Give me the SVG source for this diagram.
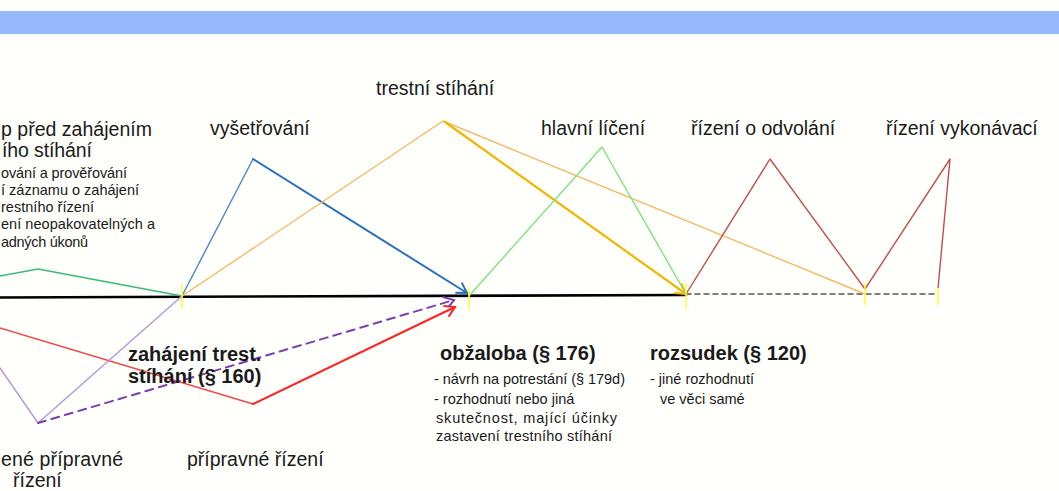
<svg xmlns="http://www.w3.org/2000/svg" width="1059" height="491" viewBox="0 0 1059 491">
<style>
text{font-family:"Liberation Sans",Arial,sans-serif;fill:#1a1a1a}
.h{font-size:19.5px}
.b{font-size:20px;font-weight:bold}
.s{font-size:14.5px}
.c{fill:none;stroke-linejoin:round;stroke-linecap:round}
.tick{stroke:#ffff33;stroke-width:1.5}
</style>
<defs>
<marker id="aBlue" markerWidth="14" markerHeight="14" refX="12" refY="7" orient="auto" markerUnits="userSpaceOnUse"><path d="M2,1 L12,7 L2,13" fill="none" stroke="#2a6fbd" stroke-width="2"/></marker>
<marker id="aGold" markerWidth="14" markerHeight="14" refX="12" refY="7" orient="auto" markerUnits="userSpaceOnUse"><path d="M2,1 L12,7 L2,13" fill="none" stroke="#f4b400" stroke-width="2"/></marker>
<marker id="aRed" markerWidth="14" markerHeight="14" refX="12" refY="7" orient="auto" markerUnits="userSpaceOnUse"><path d="M2,1 L12,7 L2,13" fill="none" stroke="#ff2222" stroke-width="2"/></marker>
<marker id="aPur" markerWidth="14" markerHeight="14" refX="12" refY="7" orient="auto" markerUnits="userSpaceOnUse"><path d="M2,1 L12,7 L5,12" fill="none" stroke="#7a3fb0" stroke-width="2"/></marker>
</defs>
<rect width="1059" height="491" fill="#fffffc"/>
<rect x="0" y="11" width="1059" height="23" fill="#96b9fc"/>

<g id="connectors">
<path class="c" d="M0,297.5 L686,295" stroke="#000" stroke-width="2.6"/>
<path class="c" d="M686,294 L938,294" stroke="#555" stroke-width="1.5" stroke-dasharray="5,4" stroke-linecap="butt"/>
<path class="c" d="M0,276 L38,269 L182,296" stroke="#3cb878" stroke-width="1.4"/>
<path class="c" d="M0,328 L253,404" stroke="#f04848" stroke-width="1.4"/>
<path class="c" d="M253,404 L455,307" stroke="#ff2222" stroke-width="2" marker-end="url(#aRed)"/>
<path class="c" d="M0,368 L38,423 L182,296" stroke="#b595d5" stroke-width="1.4"/>
<path class="c" d="M38,423 L454,300" stroke="#7a3fb0" stroke-width="2" stroke-dasharray="8,6" stroke-linecap="butt" marker-end="url(#aPur)"/>
<path class="c" d="M182,296 L253,159" stroke="#4a88c8" stroke-width="1.4"/>
<path class="c" d="M253,159 L467,293" stroke="#2a6fbd" stroke-width="2" marker-end="url(#aBlue)"/>
<path class="c" d="M182,296 L443,121 L865,294" stroke="#f7b866" stroke-width="1.4"/>
<path class="c" d="M445,122 L686,294" stroke="#f4b400" stroke-width="2.2" marker-end="url(#aGold)"/>
<path class="c" d="M469,296 L602,147 L686,294" stroke="#7de37a" stroke-width="1.4"/>
<path class="c" d="M686,294 L770,159 L865,289 L950,159 L938,288" stroke="#c0504d" stroke-width="1.4"/>
<line class="tick" x1="182" y1="284" x2="182" y2="308"/>
<line class="tick" x1="469" y1="287" x2="469" y2="310"/>
<line class="tick" x1="686" y1="283" x2="686" y2="309"/>
<line class="tick" x1="865" y1="283" x2="865" y2="305"/>
<line class="tick" x1="938" y1="288" x2="938" y2="305"/>
</g>

<g id="node-pred">
<text class="h" x="1" y="136" textLength="151">p před zahájením</text>
<text class="h" x="2" y="157" textLength="90">ího stíhání</text>
<text class="s" x="1" y="178" textLength="126">ování a prověřování</text>
<text class="s" x="1" y="195" textLength="138">í záznamu o zahájení</text>
<text class="s" x="1" y="212" textLength="93">restního řízení</text>
<text class="s" x="1" y="229" textLength="154">ení neopakovatelných a</text>
<text class="s" x="1" y="247" textLength="87">adných úkonů</text>
</g>
<g id="node-vysetrovani"><text class="h" x="210" y="135">vyšetřování</text></g>
<g id="node-trestni-stihani"><text class="h" x="376" y="95">trestní stíhání</text></g>
<g id="node-hlavni-liceni"><text class="h" x="541" y="135">hlavní líčení</text></g>
<g id="node-odvolani"><text class="h" x="691" y="135">řízení o odvolání</text></g>
<g id="node-vykonavaci"><text class="h" x="886" y="135">řízení vykonávací</text></g>
<g id="node-zahajeni">
<text class="b" x="128" y="361">zahájení trest.</text>
<text class="b" x="128" y="383">stíhání  (§ 160)</text>
</g>
<g id="node-obzaloba">
<text class="b" x="440" y="360">obžaloba (§ 176)</text>
<text class="s" x="434" y="384" textLength="191">- návrh na potrestání (§ 179d)</text>
<text class="s" x="434" y="404">- rozhodnutí nebo jiná</text>
<text class="s" x="436" y="423" textLength="181">skutečnost, mající účinky</text>
<text class="s" x="436" y="441" textLength="176">zastavení trestního stíhání</text>
</g>
<g id="node-rozsudek">
<text class="b" x="650" y="360">rozsudek (§ 120)</text>
<text class="s" x="650" y="384">- jiné rozhodnutí</text>
<text class="s" x="660" y="404">ve věci samé</text>
</g>
<g id="node-zkracene"><text class="h" x="1" y="466" textLength="122">ené přípravné</text><text class="h" x="13" y="487">řízení</text></g>
<g id="node-pripravne"><text class="h" x="187" y="466">přípravné řízení</text></g>
</svg>
